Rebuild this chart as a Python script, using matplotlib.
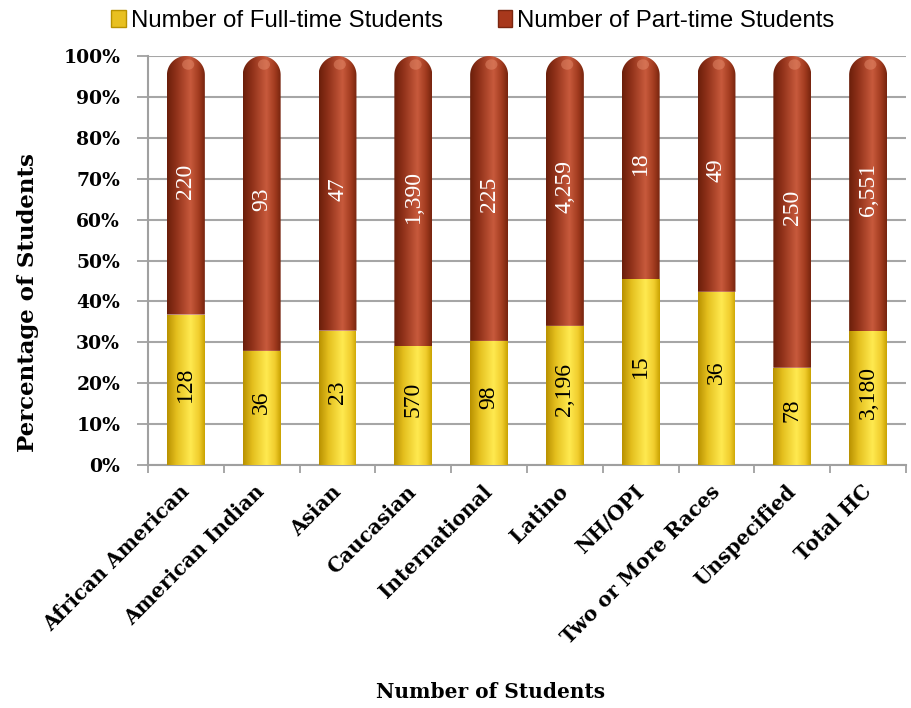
import matplotlib
matplotlib.use("Agg")
import matplotlib.pyplot as plt
import numpy as np
from matplotlib.path import Path
from matplotlib.patches import PathPatch, Patch, Ellipse
from matplotlib.colors import LinearSegmentedColormap

categories = ["African American", "American Indian", "Asian", "Caucasian", "International",
              "Latino", "NH/OPI", "Two or More Races", "Unspecified", "Total HC"]
full_time = [128, 36, 23, 570, 98, 2196, 15, 36, 78, 3180]
part_time = [220, 93, 47, 1390, 225, 4259, 18, 49, 250, 6551]
yticks = [0, 10, 20, 30, 40, 50, 60, 70, 80, 90, 100]
legend_labels = ["Number of Full-time Students", "Number of Part-time Students"]

serif = ["DejaVu Serif"]

fig = plt.figure(figsize=(9.11, 7.08), dpi=100)
ax = fig.add_axes([148/911, (708-465)/708, (906-148)/911, (465-56)/708])

n = len(categories)
ax.set_xlim(0, n)
ax.set_ylim(0, 100)

red_cmap = LinearSegmentedColormap.from_list("r", [(0, "#6a1e0a"), (0.25, "#91321a"), (0.62, "#c85a3c"),
                                                   (0.85, "#a03a1e"), (1, "#76240e")])
yel_cmap = LinearSegmentedColormap.from_list("y", [(0, "#b89000"), (0.25, "#e4bf1e"), (0.62, "#ffea50"),
                                                  (0.85, "#f0cc2c"), (1, "#c9a200")])
grad = np.linspace(0, 1, 256).reshape(1, -1)

bw = 0.5
px_x = (906-148)/n
px_y = (465-56)/100.0
cap_h = (bw/2*px_x)/px_y

def seg_path(x0, x1, y0, y1, rounded):
    if not rounded:
        verts = [(x0, y0), (x1, y0), (x1, y1), (x0, y1), (x0, y0)]
        codes = [Path.MOVETO, Path.LINETO, Path.LINETO, Path.LINETO, Path.CLOSEPOLY]
        return Path(verts, codes)
    t = np.linspace(0, np.pi, 60)
    xc = (x0+x1)/2
    r = (x1-x0)/2
    ys = y1 - cap_h
    arc = [(xc + r*np.cos(a), ys + cap_h*np.sin(a)) for a in t]
    verts = [(x0, y0), (x1, y0)] + arc + [(x0, y0)]
    codes = [Path.MOVETO] + [Path.LINETO]*(len(verts)-2) + [Path.CLOSEPOLY]
    return Path(verts, codes)

for i in range(n):
    tot = full_time[i] + part_time[i]
    pf = full_time[i]/tot*100
    x0, x1 = i + 0.5 - bw/2, i + 0.5 + bw/2
    for (y0, y1, cmap, rounded) in [(0, pf, yel_cmap, False), (pf, 100, red_cmap, True)]:
        p = PathPatch(seg_path(x0, x1, y0, y1, rounded), facecolor="none", edgecolor="none", zorder=3)
        ax.add_patch(p)
        im = ax.imshow(grad, cmap=cmap, extent=[x0, x1, y0, y1], aspect="auto", zorder=3,
                       interpolation="bilinear")
        im.set_clip_path(p)
    hl = Ellipse((i + 0.5 + 0.03, 100 - cap_h*0.45), 0.16, cap_h*0.55,
                 facecolor="#e89070", edgecolor="none", alpha=0.45, zorder=4)
    ax.add_patch(hl)
    ax.text(i + 0.5, pf/2 + 1.4, f"{full_time[i]:,}", rotation=90, ha="center", va="center",
            fontsize=17, color="black", family=["Liberation Serif"], zorder=5)
    ax.text(i + 0.5, pf + (100-pf)/2 + 1, f"{part_time[i]:,}", rotation=90, ha="center", va="center",
            fontsize=17, color="white", family=["Liberation Serif"], zorder=5)

ax.set_xlim(0, n)
ax.set_ylim(0, 100)

ax.set_yticks(yticks)
ax.set_yticklabels([f"{v}%" for v in yticks], family=serif, fontweight="bold", fontsize=13.5)
ax.set_xticks(np.arange(n+1))
ax.set_xticklabels([])
ax.set_xticks(np.arange(n) + 0.5, minor=True)
ax.set_xticklabels(categories, minor=True, rotation=45, ha="right", va="center",
                   rotation_mode="anchor", family=serif, fontweight="bold", fontsize=14.5)
ax.tick_params(axis="x", which="minor", length=0, pad=17)
ax.tick_params(axis="x", which="major", length=6, color="#a0a0a0", width=1.3)
ax.tick_params(axis="y", length=8, color="#a0a0a0", width=1.3, pad=12)

ax.grid(axis="y", color="#a6a6a6", linewidth=1.5, zorder=0)
ax.set_axisbelow(True)
for s in ["top", "right"]:
    ax.spines[s].set_visible(False)
for s in ["left", "bottom"]:
    ax.spines[s].set_color("#a0a0a0")
    ax.spines[s].set_linewidth(1.5)

fig.text(28/911, 1 - 302/708, "Percentage of Students", rotation=90, ha="center", va="center",
         family=serif, fontweight="bold", fontsize=16.5)
fig.text(491/911, 1 - 692/708, "Number of Students", ha="center", va="center",
         family=serif, fontweight="bold", fontsize=14.5)

handles = [Patch(facecolor="#e8c020", edgecolor="#b89200"), Patch(facecolor="#a8381c", edgecolor="#7a2610")]
fig.legend(handles, legend_labels, loc="center", bbox_to_anchor=(0.519, 0.971), ncol=2, frameon=False,
           prop={"family": ["Liberation Sans"], "size": 17.3},
           handlelength=0.6, handleheight=0.7, handletextpad=0.2, columnspacing=2.3)

fig.savefig("out.png", dpi=100)
